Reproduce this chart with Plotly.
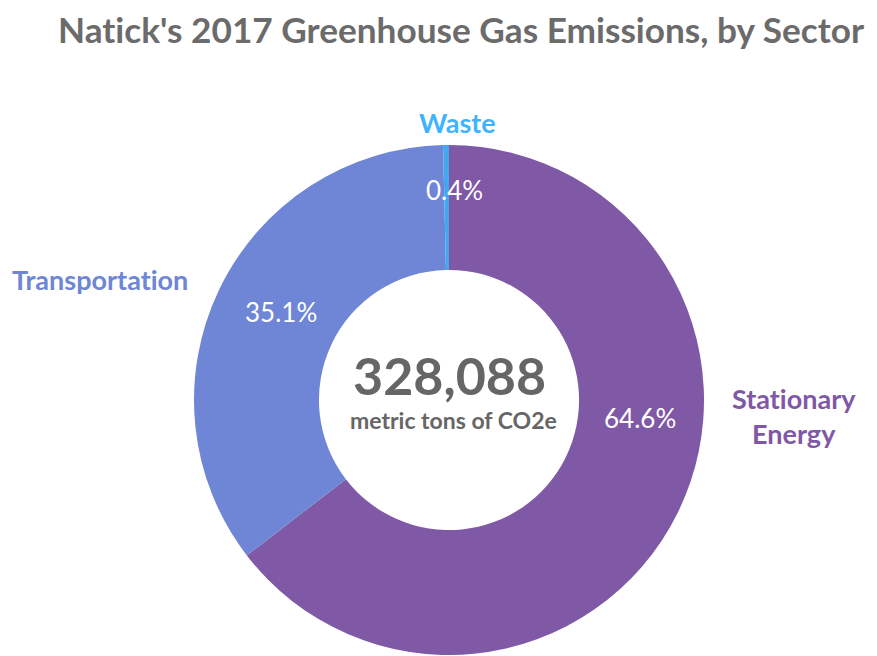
import plotly.graph_objects as go

sectors = ["Stationary Energy", "Transportation", "Waste"]
tons = [211846, 115028, 1214]
colors = ["#7f58a6", "#6e86d5", "#42a9ee"]
label_colors = ["#7f58a6", "#6e86d5", "#3fb3ff"]
total = sum(tons)

W, H = 877, 656
OFF = 8  # page body margin
ZWNJ = "\u200c"  # keeps Lato from drawing the "ti" ligature


def px(x, y):
    return (x - OFF) / W, 1 - (y - OFF) / H


fig = go.Figure(go.Pie(
    labels=sectors,
    values=tons,
    sort=False,
    direction="clockwise",
    rotation=0,
    hole=0.51,
    textinfo="none",
    marker=dict(colors=colors, line=dict(width=0)),
    domain=dict(x=[(194 - OFF) / W, (704 - OFF) / W],
                y=[1 - (655 - OFF) / H, 1 - (145 - OFF) / H]),
    showlegend=False,
))

annotations = []
# outside sector labels
label_pos = [(794, 416), (100, 280), (457, 122)]
label_text = ["Stationary<br>Energy", "Transportation", "Waste"]
for (x, y), t, c in zip(label_pos, label_text, label_colors):
    ax, ay = px(x, y)
    annotations.append(dict(x=ax, y=ay, xref="paper", yref="paper",
                            text="<b>" + t.replace("ti", "t" + ZWNJ + "i") + "</b>",
                            showarrow=False, font=dict(size=27, color=c, family="Lato"),
                            xanchor="center", yanchor="middle"))

# percent labels
pct_pos = [(640, 418), (281, 312), (455, 190)]
for (x, y), v in zip(pct_pos, tons):
    ax, ay = px(x, y)
    annotations.append(dict(x=ax, y=ay, xref="paper", yref="paper", text=f"{v / total * 100:.1f}%",
                            showarrow=False, font=dict(size=26, color="white", family="Lato"),
                            xanchor="center", yanchor="middle"))

# centre total
ax, ay = px(449, 375)
annotations.append(dict(x=ax, y=ay, xref="paper", yref="paper", text=f"<b>{total:,}</b>",
                        showarrow=False, font=dict(size=52, color="#666666", family="Lato"),
                        xanchor="center", yanchor="middle"))
ax, ay = px(453, 420)
annotations.append(dict(x=ax, y=ay, xref="paper", yref="paper", text="<b>metric tons of CO2e</b>",
                        showarrow=False, font=dict(size=23, color="#666666", family="Lato"),
                        xanchor="center", yanchor="middle"))

# title as annotation so it sits just below the top edge
tx, ty = px(461, 29)
annotations.append(dict(x=tx, y=ty, xref="paper", yref="paper",
                        text="<b>Nat" + ZWNJ + "ick's 2017 Greenhouse Gas Emissions, by Sector</b>",
                        showarrow=False, font=dict(size=35.2, color="#6b6b6b", family="Lato"),
                        xanchor="center", yanchor="middle"))

fig.update_layout(
    width=W, height=H,
    margin=dict(l=0, r=0, t=0, b=0),
    paper_bgcolor="white",
    annotations=annotations,
)

fig.write_html("out.html")
